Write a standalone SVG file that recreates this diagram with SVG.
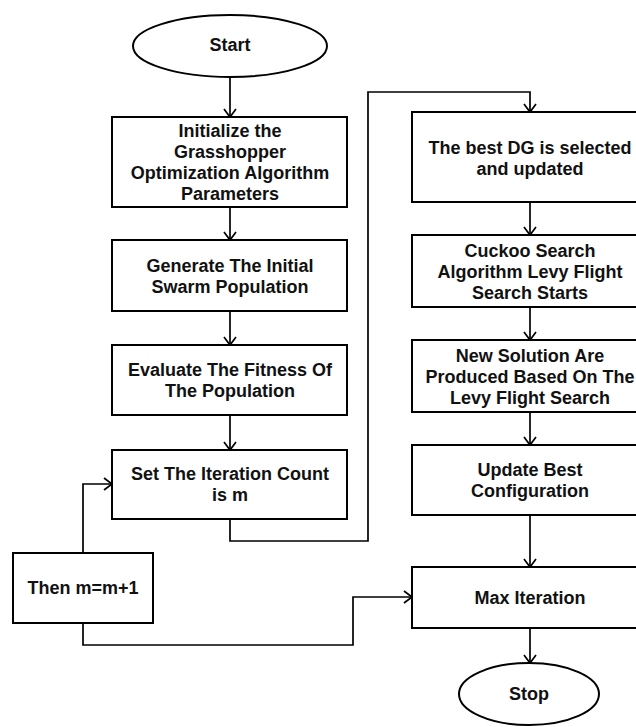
<svg xmlns="http://www.w3.org/2000/svg" width="636" height="727" viewBox="0 0 636 727">
  <defs>
    <style>
      .shape { fill: #ffffff; stroke: #000000; stroke-width: 2; }
      .link { fill: none; stroke: #000000; stroke-width: 1.7; }
      .label { font-family: "Liberation Sans", Arial, Helvetica, sans-serif; font-size: 18px; font-weight: bold; fill: #111111; text-anchor: middle; }
    </style>
    <marker id="arrow" markerUnits="userSpaceOnUse" viewBox="-10 -7 12 14" refX="0" refY="0" markerWidth="12" markerHeight="14" orient="auto">
      <path d="M-8,-6 L0,0 L-8,6" fill="none" stroke="#000000" stroke-width="1.7"/>
    </marker>
  </defs>
  <rect width="636" height="727" fill="#ffffff"/>

  <!-- connectors -->
  <g id="connectors">
    <path class="link" d="M230,77 V117" marker-end="url(#arrow)"/>
    <path class="link" d="M230,207 V240" marker-end="url(#arrow)"/>
    <path class="link" d="M230,311 V345" marker-end="url(#arrow)"/>
    <path class="link" d="M230,415 V450" marker-end="url(#arrow)"/>
    <path class="link" d="M230,519 V541 H368 V92 H530 V112" marker-end="url(#arrow)"/>
    <path class="link" d="M530,202 V235" marker-end="url(#arrow)"/>
    <path class="link" d="M530,307 V340" marker-end="url(#arrow)"/>
    <path class="link" d="M530,412 V445" marker-end="url(#arrow)"/>
    <path class="link" d="M530,515 V567" marker-end="url(#arrow)"/>
    <path class="link" d="M530,628 V663" marker-end="url(#arrow)"/>
    <path class="link" d="M83,553 V484 H112" marker-end="url(#arrow)"/>
    <path class="link" d="M83,623 V645 H353 V597 H412" marker-end="url(#arrow)"/>
  </g>

  <!-- left column -->
  <g id="start">
    <ellipse class="shape" cx="230" cy="46" rx="97" ry="31"/>
    <text class="label" x="230" y="51">Start</text>
  </g>
  <g id="init-params">
    <rect class="shape" x="112" y="117" width="235" height="90"/>
    <text class="label" x="230" y="137">Initialize the</text>
    <text class="label" x="230" y="158">Grasshopper</text>
    <text class="label" x="230" y="179">Optimization Algorithm</text>
    <text class="label" x="230" y="200">Parameters</text>
  </g>
  <g id="generate-swarm">
    <rect class="shape" x="112" y="240" width="235" height="71"/>
    <text class="label" x="230" y="272">Generate The Initial</text>
    <text class="label" x="230" y="293">Swarm Population</text>
  </g>
  <g id="evaluate-fitness">
    <rect class="shape" x="112" y="345" width="235" height="70"/>
    <text class="label" x="230" y="376">Evaluate The Fitness Of</text>
    <text class="label" x="230" y="397">The Population</text>
  </g>
  <g id="set-iteration">
    <rect class="shape" x="112" y="450" width="235" height="69"/>
    <text class="label" x="230" y="480">Set The Iteration Count</text>
    <text class="label" x="230" y="501">is m</text>
  </g>
  <g id="increment">
    <rect class="shape" x="13" y="553" width="140" height="70"/>
    <text class="label" x="83" y="594">Then m=m+1</text>
  </g>

  <!-- right column -->
  <g id="best-dg">
    <rect class="shape" x="412" y="112" width="236" height="90"/>
    <text class="label" x="530" y="154">The best DG is selected</text>
    <text class="label" x="530" y="175">and updated</text>
  </g>
  <g id="cuckoo-search">
    <rect class="shape" x="412" y="235" width="236" height="72"/>
    <text class="label" x="530" y="257">Cuckoo Search</text>
    <text class="label" x="530" y="278">Algorithm Levy Flight</text>
    <text class="label" x="530" y="299">Search Starts</text>
  </g>
  <g id="new-solution">
    <rect class="shape" x="412" y="340" width="236" height="72"/>
    <text class="label" x="530" y="362">New Solution Are</text>
    <text class="label" x="530" y="383">Produced Based On The</text>
    <text class="label" x="530" y="404">Levy Flight Search</text>
  </g>
  <g id="update-best">
    <rect class="shape" x="412" y="445" width="236" height="70"/>
    <text class="label" x="530" y="476">Update Best</text>
    <text class="label" x="530" y="497">Configuration</text>
  </g>
  <g id="max-iteration">
    <rect class="shape" x="412" y="567" width="236" height="61"/>
    <text class="label" x="530" y="604">Max Iteration</text>
  </g>
  <g id="stop">
    <ellipse class="shape" cx="529" cy="694" rx="70" ry="31"/>
    <text class="label" x="529" y="700">Stop</text>
  </g>
</svg>
